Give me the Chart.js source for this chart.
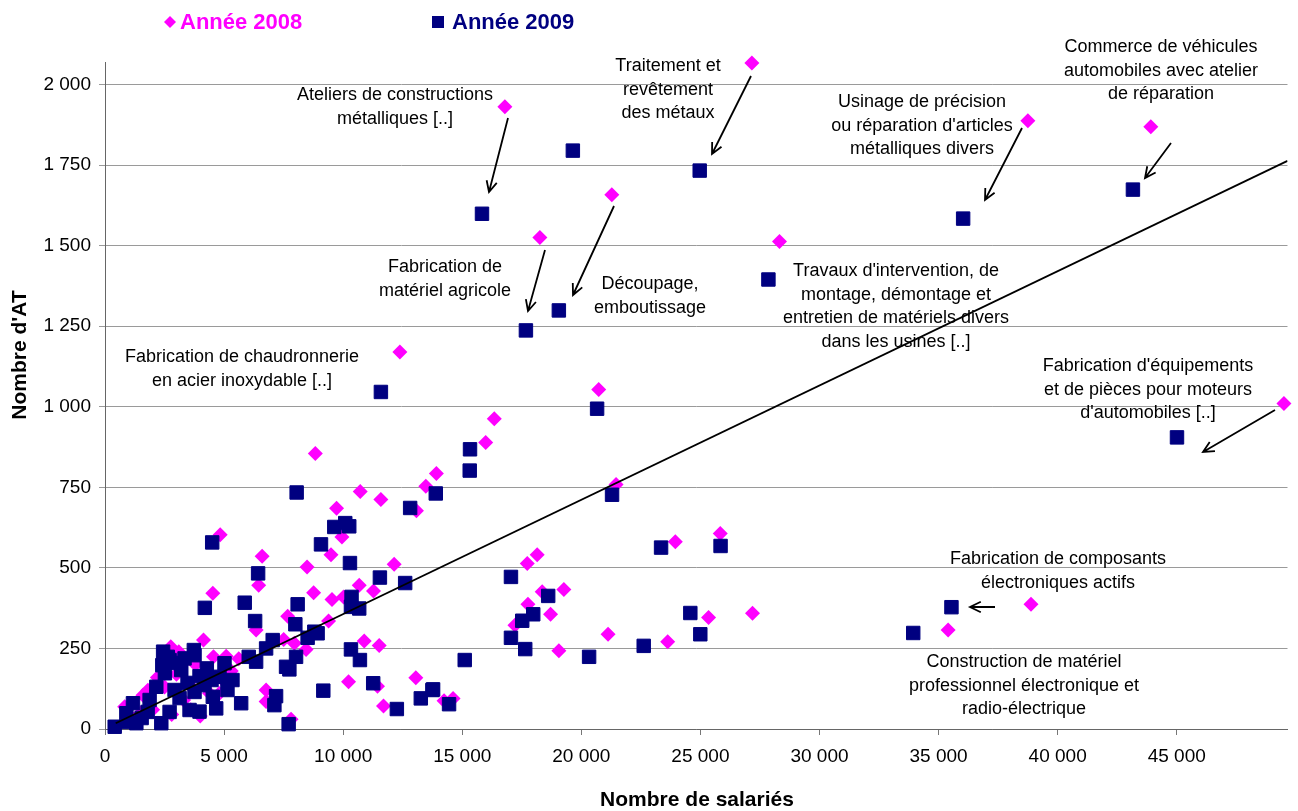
<!DOCTYPE html>
<html lang="fr">
<head>
<meta charset="utf-8">
<title>Nombre d'AT selon le nombre de salariés</title>
<script src="https://cdn.jsdelivr.net/npm/chart.js@4/dist/chart.umd.min.js"></script>
<style>
  html, body { margin: 0; padding: 0; background: #fff; }
  #wrap { position: relative; width: 1298px; height: 811px; }
</style>
</head>
<body>
<div id="wrap"><canvas id="chart" width="1298" height="811"></canvas></div>
<script>
// Values (salariés on x, AT on y)
const salaries2008 = [27160, 16790, 38750, 43910, 21280, 18260, 28320, 12380, 20730, 49500,
  16345, 15984, 8830, 13914, 21458, 13470, 10716, 11584, 13076, 9723,
  9949, 9488, 6597, 4836, 23947, 25833, 17728, 18147, 8483, 12141,
  10674, 11274, 8759, 9530, 10016, 6454, 7670, 9388, 7502, 7950,
  8441, 10884, 11513, 10226, 11441, 13051, 11693, 6764, 6764, 7812,
  18357, 19266, 17757, 18709, 17212, 21123, 23625, 19056, 14237, 14614,
  25343, 27187, 38880, 35400, 4526, 6345, 2762, 4136, 4556, 5088,
  5616, 826, 1593, 4388, 5088, 2000, 2500, 3000, 3500, 3300,
  2800, 1200, 3800, 4200, 2200, 2600, 4800, 3100, 1800, 3600,
  5300, 4000, 1500];
const at2008 = [2067, 1931, 1888, 1869, 1658, 1525, 1513, 1170, 1054, 1010,
  963, 889, 855, 793, 759, 753, 737, 712, 677, 685,
  596, 541, 536, 603, 581, 607, 514, 541, 503, 511,
  446, 428, 423, 402, 410, 446, 350, 335, 278, 266,
  247, 273, 259, 147, 133, 159, 71, 121, 85, 30,
  426, 433, 387, 356, 322, 294, 271, 243, 88, 95,
  346, 359, 387, 307, 421, 307, 255, 276, 224, 226,
  218, 69, 105, 111, 142, 60, 130, 170, 140, 90,
  45, 30, 200, 180, 160, 200, 110, 240, 120, 60,
  180, 40, 50];

const salaries2009 = [19644, 15829, 24970, 43160, 36031, 27855, 19056, 17673, 11584, 20662,
  45010, 15326, 15314, 13889, 21290, 8047, 12812, 10088, 9627, 10255,
  9069, 10285, 23348, 25846, 17045, 18608, 17980, 17518, 17045, 17644,
  20326, 22619, 15104, 13776, 14446, 24576, 24995, 33935, 35540, 11542,
  12603, 8089, 10352, 10674, 10327, 7992, 8927, 8508, 8789, 8022,
  7602, 7741, 10327, 10704, 9166, 11261, 7183, 7112, 13260, 13746,
  12254, 7711, 4501, 6429, 4191, 5867, 6303, 7041, 6764, 6035,
  6345, 407, 897, 1316, 1174, 1873, 2154, 2515, 2406, 2712,
  3340, 3202, 3759, 4275, 5017, 4807, 2364, 3969, 4669, 4526,
  5717, 2921, 3466, 3131, 3759, 4178, 3550, 2712, 1790, 1538,
  951, 3969, 4472, 5142, 5352, 2963, 2636, 2440, 3730];
const at2009 = [1795, 1599, 1733, 1674, 1584, 1395, 1299, 1237, 1046, 994,
  905, 868, 802, 731, 727, 734, 686, 639, 627, 629,
  573, 515, 563, 568, 472, 413, 356, 336, 283, 248,
  224, 258, 214, 123, 77, 360, 294, 298, 378, 470,
  453, 387, 410, 374, 379, 325, 297, 283, 302, 224,
  193, 185, 247, 214, 119, 142, 102, 74, 95, 121,
  62, 15, 579, 483, 376, 392, 335, 276, 250, 224,
  209, 7, 49, 18, 80, 90, 131, 173, 198, 214,
  219, 183, 229, 188, 204, 162, 18, 54, 64, 100,
  80, 121, 143, 96, 115, 136, 59, 53, 53, 34,
  22, 164, 152, 121, 152, 205, 224, 240, 245];

// Linear trend line end points
const trendX = [450, 49650];
const trendY = [18, 1763];

const xTicks = [0, 5000, 10000, 15000, 20000, 25000, 30000, 35000, 40000, 45000];
const yTicks = [0, 250, 500, 750, 1000, 1250, 1500, 1750, 2000];

const pink = '#ff00ff';
const navy = '#000080';
const FONT = '"Liberation Sans", Arial, sans-serif';

function toPoints(xs, ys) {
  return xs.map((x, i) => ({ x: x, y: ys[i] }));
}

function fmt(v) {
  return String(v).replace(/\B(?=(\d{3})+(?!\d))/g, ' ');
}

// Callout texts and arrows (canvas pixels)
const notes = [
  { x: 668, y: 66, lines: ['Traitement et', 'revêtement', 'des métaux'] },
  { x: 395, y: 95, lines: ['Ateliers de constructions', 'métalliques [..]'] },
  { x: 1161, y: 47, lines: ['Commerce de véhicules', 'automobiles avec atelier', 'de réparation'] },
  { x: 922, y: 102, lines: ['Usinage de précision', "ou réparation d'articles", 'métalliques divers'] },
  { x: 445, y: 267, lines: ['Fabrication de', 'matériel agricole'] },
  { x: 650, y: 284, lines: ['Découpage,', 'emboutissage'] },
  { x: 896, y: 271, lines: ["Travaux d'intervention, de", 'montage, démontage et', 'entretien de matériels divers', 'dans les usines [..]'] },
  { x: 242, y: 357, lines: ['Fabrication de chaudronnerie', 'en acier inoxydable [..]'] },
  { x: 1148, y: 366, lines: ["Fabrication d'équipements", 'et de pièces pour moteurs', "d'automobiles [..]"] },
  { x: 1058, y: 559, lines: ['Fabrication de composants', 'électroniques actifs'] },
  { x: 1024, y: 662, lines: ['Construction de matériel', 'professionnel électronique et', 'radio-électrique'] }
];
const arrows = [
  [751, 76, 712, 154],
  [508, 118, 489, 192],
  [1171, 143, 1145, 178],
  [1022, 128, 985, 200],
  [545, 250, 528, 311],
  [614, 206, 573, 295],
  [1275, 410, 1203, 452],
  [995, 607, 970, 607]
];

const decorations = {
  id: 'decorations',
  afterDraw(chart) {
    const ctx = chart.ctx;
    ctx.save();

    // callouts
    ctx.fillStyle = '#000';
    ctx.font = '18px ' + FONT;
    ctx.textAlign = 'center';
    ctx.textBaseline = 'middle';
    notes.forEach(n => {
      n.lines.forEach((t, i) => ctx.fillText(t, n.x, n.y + i * 23.6));
    });

    ctx.strokeStyle = '#000';
    ctx.lineWidth = 1.8;
    arrows.forEach(a => {
      const ang = Math.atan2(a[3] - a[1], a[2] - a[0]);
      ctx.beginPath();
      ctx.moveTo(a[0], a[1]);
      ctx.lineTo(a[2], a[3]);
      ctx.moveTo(a[2] - 12 * Math.cos(ang - 0.45), a[3] - 12 * Math.sin(ang - 0.45));
      ctx.lineTo(a[2], a[3]);
      ctx.lineTo(a[2] - 12 * Math.cos(ang + 0.45), a[3] - 12 * Math.sin(ang + 0.45));
      ctx.stroke();
    });

    // legend
    ctx.textAlign = 'left';
    ctx.font = 'bold 22px ' + FONT;
    ctx.fillStyle = pink;
    ctx.beginPath();
    ctx.moveTo(170, 16); ctx.lineTo(176, 22); ctx.lineTo(170, 28); ctx.lineTo(164, 22);
    ctx.closePath();
    ctx.fill();
    ctx.fillText('Année 2008', 180, 23);
    ctx.fillStyle = navy;
    ctx.fillRect(432, 16, 12, 12);
    ctx.fillText('Année 2009', 452, 23);

    // axis titles
    ctx.fillStyle = '#000';
    ctx.font = 'bold 21px ' + FONT;
    ctx.textAlign = 'center';
    ctx.fillText('Nombre de salariés', 697, 800);
    ctx.translate(20, 355);
    ctx.rotate(-Math.PI / 2);
    ctx.fillText("Nombre d'AT", 0, 0);
    ctx.restore();
  }
};

new Chart(document.getElementById('chart'), {
  type: 'scatter',
  data: {
    datasets: [
      {
        label: 'Tendance',
        data: toPoints(trendX, trendY),
        showLine: true,
        borderColor: '#000',
        borderWidth: 1.8,
        pointRadius: 0
      },
      {
        label: 'Année 2009',
        data: toPoints(salaries2009, at2009),
        clip: false,
        pointStyle: 'rect',
        pointRadius: 9.5,
        backgroundColor: navy,
        borderColor: navy,
        borderWidth: 1
      },
      {
        label: 'Année 2008',
        data: toPoints(salaries2008, at2008),
        clip: false,
        pointStyle: 'rectRot',
        pointRadius: 7.5,
        backgroundColor: pink,
        borderColor: pink,
        borderWidth: 0
      }
    ]
  },
  options: {
    responsive: false,
    animation: false,
    events: [],
    layout: { padding: { top: 62, right: 8, bottom: 0, left: 0 } },
    plugins: {
      legend: { display: false },
      tooltip: { enabled: false }
    },
    scales: {
      x: {
        type: 'linear',
        min: 0,
        max: 49650,
        afterBuildTicks: s => { s.ticks = xTicks.map(v => ({ value: v })); },
        afterFit: s => { s.height = 82; },
        grid: { drawOnChartArea: false, drawTicks: true, tickLength: 6, color: '#777' },
        border: { display: true, color: '#666', width: 1 },
        ticks: {
          padding: 10,
          color: '#000',
          font: { family: FONT, size: 19 },
          maxRotation: 0,
          callback: v => fmt(v)
        }
      },
      y: {
        type: 'linear',
        min: 0,
        max: 2070,
        afterBuildTicks: s => { s.ticks = yTicks.map(v => ({ value: v })); },
        afterFit: s => { s.width = 105; },
        grid: { drawOnChartArea: true, drawTicks: true, tickLength: 6, color: '#9a9a9a' },
        border: { display: true, color: '#666', width: 1 },
        ticks: {
          padding: 8,
          color: '#000',
          font: { family: FONT, size: 19 },
          callback: v => fmt(v)
        }
      }
    }
  },
  plugins: [decorations]
});
</script>
</body>
</html>
